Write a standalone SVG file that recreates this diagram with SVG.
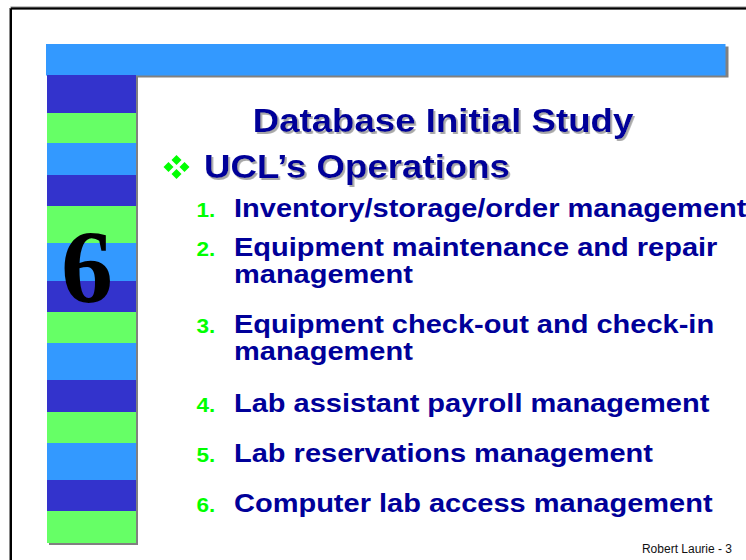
<svg xmlns="http://www.w3.org/2000/svg" width="746" height="560" viewBox="0 0 746 560">
  <defs>
    <style>
      .shadow { fill: #808080; }
      .dark { fill: #3333CC; }
      .green { fill: #66FF66; }
      .light { fill: #3399FF; }
      .title { font-family: "Liberation Sans", Arial, sans-serif; font-weight: bold; font-size: 33px; fill: #000099; }
      .item { font-family: "Liberation Sans", Arial, sans-serif; font-weight: bold; font-size: 26.5px; fill: #000099; }
      .num { font-family: "Liberation Sans", Arial, sans-serif; font-weight: bold; font-size: 20.5px; fill: #00FF00; }
      .footer { font-family: "Liberation Sans", Arial, sans-serif; font-size: 12px; fill: #111111; }
      .bullet { fill: #00FF00; }
    </style>
    <filter id="textShadow" x="-5%" y="-20%" width="110%" height="140%">
      <feDropShadow dx="1.8" dy="2" stdDeviation="0.4" flood-color="#A8A8A8" flood-opacity="1"/>
    </filter>
  </defs>

  <rect width="746" height="560" fill="#FFFFFF"/>

  <!-- outer slide frame (top and left edges only are in view) -->
  <g id="frame">
    <line x1="10.5" y1="8" x2="746" y2="8" stroke="#8A8A8A" stroke-width="3"/>
    <line x1="10.5" y1="8" x2="10.5" y2="560" stroke="#8A8A8A" stroke-width="3"/>
    <line x1="11" y1="8.5" x2="746" y2="8.5" stroke="#000000" stroke-width="2"/>
    <line x1="11" y1="8.5" x2="11" y2="560" stroke="#000000" stroke-width="2"/>
  </g>

  <!-- header bar with drop shadow -->
  <g id="header-bar">
    <rect class="shadow" x="48.5" y="46.5" width="680" height="31"/>
    <rect class="light" x="46" y="44" width="679.5" height="31.5"/>
  </g>

  <!-- striped side column with drop shadow -->
  <g id="side-stripes">
    <rect class="shadow" x="49" y="77" width="89" height="468"/>
    <rect class="dark"  x="47" y="75"  width="89" height="38"/>
    <rect class="green" x="47" y="113" width="89" height="30"/>
    <rect class="light" x="47" y="143" width="89" height="32"/>
    <rect class="dark"  x="47" y="175" width="89" height="31"/>
    <rect class="green" x="47" y="206" width="89" height="37"/>
    <rect class="light" x="47" y="243" width="89" height="38"/>
    <rect class="dark"  x="47" y="281" width="89" height="31"/>
    <rect class="green" x="47" y="312" width="89" height="31"/>
    <rect class="light" x="47" y="343" width="89" height="37"/>
    <rect class="dark"  x="47" y="380" width="89" height="32"/>
    <rect class="green" x="47" y="412" width="89" height="31"/>
    <rect class="light" x="47" y="443" width="89" height="37"/>
    <rect class="dark"  x="47" y="480" width="89" height="31"/>
    <rect class="green" x="47" y="511" width="89" height="32"/>
  </g>

  <!-- chapter number -->
  <g id="chapter-number">
    <text x="87" y="302" text-anchor="middle" font-family="'Liberation Serif', 'Times New Roman', serif" font-weight="bold" font-size="104" fill="#000000">6</text>
  </g>

  <!-- slide title (slightly wide-set lettering) -->
  <g id="title" filter="url(#textShadow)">
    <text class="title" transform="translate(443 132) scale(1.11 1)" text-anchor="middle">Database Initial Study</text>
  </g>

  <!-- section heading with diamond bullet -->
  <g id="heading">
    <g class="bullet">
      <polygon points="176.5,155 181.5,160 176.5,165 171.5,160"/>
      <polygon points="176.5,169 181.5,174 176.5,179 171.5,174"/>
      <polygon points="168.5,162 173.5,167 168.5,172 163.5,167"/>
      <polygon points="184.5,162 189.5,167 184.5,172 179.5,167"/>
    </g>
    <g filter="url(#textShadow)">
      <text class="title" transform="translate(204 178) scale(1.11 1)">UCL’s Operations</text>
    </g>
  </g>

  <!-- numbered list -->
  <g id="item-1">
    <text class="num" transform="translate(196.5 217) scale(1.1 1)">1.</text>
    <text class="item" transform="translate(234 217) scale(1.095 1)">Inventory/storage/order management</text>
  </g>
  <g id="item-2">
    <text class="num" transform="translate(196.5 256) scale(1.1 1)">2.</text>
    <text class="item" transform="translate(234 256) scale(1.095 1)">Equipment maintenance and repair</text>
    <text class="item" transform="translate(234 283) scale(1.095 1)">management</text>
  </g>
  <g id="item-3">
    <text class="num" transform="translate(196.5 333) scale(1.1 1)">3.</text>
    <text class="item" transform="translate(234 333) scale(1.095 1)">Equipment check-out and check-in</text>
    <text class="item" transform="translate(234 360) scale(1.095 1)">management</text>
  </g>
  <g id="item-4">
    <text class="num" transform="translate(196.5 412) scale(1.1 1)">4.</text>
    <text class="item" transform="translate(234 412) scale(1.095 1)">Lab assistant payroll management</text>
  </g>
  <g id="item-5">
    <text class="num" transform="translate(196.5 462) scale(1.1 1)">5.</text>
    <text class="item" transform="translate(234 462) scale(1.095 1)">Lab reservations management</text>
  </g>
  <g id="item-6">
    <text class="num" transform="translate(196.5 512) scale(1.1 1)">6.</text>
    <text class="item" transform="translate(234 512) scale(1.095 1)">Computer lab access management</text>
  </g>

  <!-- footer -->
  <g id="footer">
    <text class="footer" x="732" y="553" text-anchor="end">Robert Laurie - 3</text>
  </g>
</svg>
